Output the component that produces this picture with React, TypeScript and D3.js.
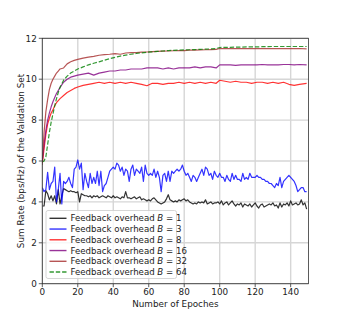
import * as d3 from 'd3';

const W = 343;
const H = 319;
const M = { left: 42.3, right: 308.4, top: 38.3, bottom: 283.7 };

// epochs used for the smooth curves
const smoothEpochs = [
  0, 1, 2, 3, 4, 5, 6, 7, 8, 9, 10, 12, 14, 16, 18, 20, 23, 26, 29, 32, 35, 38, 41, 44, 47, 50, 53, 56, 59,
  62, 65, 68, 71, 74, 77, 80, 83, 86, 89, 92, 95, 98, 100, 103, 106, 109, 112, 115, 118, 121, 124, 127, 130,
  133, 136, 139, 142, 145, 149,
];

const b1 = [
  3.8, 3.8, 4.55, 4.4, 4.1, 4.3, 4.05, 4.3, 3.9, 4.6,
  3.9, 4.3, 4.65, 4.6, 4.55, 4.5, 4.55, 4.5, 4.5, 4.45,
  4.5, 4.0, 4.4, 4.35, 4.3, 4.3, 4.25, 4.3, 4.2, 4.3,
  4.25, 4.3, 4.2, 4.25, 4.3, 4.25, 4.2, 4.3, 4.25, 4.2,
  4.3, 4.2, 4.25, 4.2, 4.15, 4.25, 4.2, 4.5, 4.2, 4.2,
  4.15, 4.2, 4.25, 4.15, 4.2, 4.25, 4.1, 4.15, 4.1, 4.05,
  4.1, 4.05, 4.15, 4.2, 4.1, 4.0, 3.95, 3.9, 3.95, 4.0,
  4.15, 4.35, 4.1, 4.05, 4.0, 4.05, 4.0, 4.1, 4.05, 4.1,
  4.15, 4.05, 4.1, 4.0, 3.95, 3.9, 3.95, 3.9, 4.0, 3.95,
  4.0, 3.95, 4.1, 3.9, 3.95, 4.0, 3.9, 3.95, 3.95, 4.0,
  3.9, 4.05, 3.85, 3.95, 4.0, 3.85, 3.95, 4.05, 3.9, 3.8,
  3.9, 3.85, 3.95, 3.75, 3.9, 3.85, 3.8, 3.9, 3.75, 3.85,
  3.95, 3.8, 3.7, 3.85, 3.9, 3.75, 3.8, 3.85, 3.9, 3.85,
  3.95, 3.8, 3.85, 3.7, 3.95, 3.75, 3.9, 3.85, 3.95, 3.8,
  4.05, 3.85, 3.9, 3.95, 3.85, 3.9, 4.1, 3.85, 3.95, 3.65,
];

const b3 = [
  4.7, 4.5, 4.6, 5.45, 4.6, 4.9, 5.0, 5.7, 4.0, 4.6,
  5.4, 3.9, 5.0, 4.9, 5.0, 5.2, 4.9, 4.7, 5.6, 5.7,
  6.05, 5.6, 5.9, 4.6, 5.4, 5.0, 4.7, 5.4, 4.9, 5.2,
  4.9, 5.5, 4.8, 5.5, 4.5, 4.8, 4.9, 5.2, 5.5, 5.6,
  5.7, 5.6, 5.9, 5.8, 5.5, 5.7, 5.3, 5.6, 5.5, 5.0,
  5.6, 5.8, 5.3, 5.6, 5.5, 5.4, 5.7, 5.0, 5.8, 5.4,
  5.3, 5.4, 5.3, 5.6, 5.2, 5.5, 5.2, 4.5, 5.3, 5.4,
  5.0, 5.5, 5.0, 5.5, 5.4, 5.5, 5.6, 5.5, 5.6, 5.8,
  5.5, 5.3, 5.4, 5.2, 5.0, 5.3, 5.2, 5.0, 5.2, 5.4,
  5.6, 5.3, 5.7, 5.6, 5.3, 5.4, 5.1, 5.5, 5.3, 5.2,
  5.4, 5.2, 5.2, 5.0, 5.3, 5.1, 5.0, 5.4, 5.1, 5.3,
  5.1, 5.1, 5.0, 5.4, 5.1, 5.2, 5.1, 5.4, 5.2, 5.2,
  5.2, 5.3, 5.2, 5.2, 5.1, 5.1, 5.0, 5.0, 4.9, 4.9,
  4.8, 4.7, 4.9, 4.8, 5.2, 4.7, 5.0, 5.1, 5.2, 5.3,
  5.2, 5.1, 5.0, 4.8, 4.5, 4.6, 4.7, 4.7, 4.5, 4.5,
];

const b8 = [
  5.9, 6.6, 7.3, 7.8, 8.1, 8.35, 8.5, 8.7, 8.85, 8.95, 9.05, 9.2, 9.35, 9.45, 9.55, 9.62, 9.7, 9.75, 9.8,
  9.85, 9.8, 9.85, 9.8, 9.85, 9.8, 9.85, 9.8, 9.75, 9.68, 9.8, 9.8, 9.75, 9.8, 9.8, 9.85, 9.8, 9.85, 9.8,
  9.85, 9.8, 9.85, 9.8, 9.95, 9.9, 9.85, 9.9, 9.85, 9.85, 9.8, 9.85, 9.85, 9.8, 9.85, 9.8, 9.85, 9.75, 9.7,
  9.75, 9.8,
];

const b16 = [
  6.0, 6.8, 7.5, 8.0, 8.35, 8.65, 8.9, 9.1, 9.3, 9.45, 9.6, 9.85, 10.0, 10.1, 10.15, 10.2, 10.25, 10.3,
  10.2, 10.3, 10.35, 10.4, 10.4, 10.45, 10.45, 10.5, 10.5, 10.5, 10.55, 10.55, 10.55, 10.5, 10.55, 10.5,
  10.55, 10.55, 10.55, 10.6, 10.55, 10.6, 10.6, 10.55, 10.7, 10.7, 10.7, 10.68, 10.7, 10.7, 10.7, 10.7,
  10.72, 10.7, 10.7, 10.7, 10.72, 10.72, 10.7, 10.72, 10.7,
];

const b32 = [
  5.8, 7.4, 8.4, 9.0, 9.5, 9.8, 10.0, 10.15, 10.3, 10.4, 10.5, 10.55, 10.75, 10.85, 10.92, 10.97, 11.03,
  11.08, 11.12, 11.17, 11.2, 11.22, 11.25, 11.22, 11.28, 11.3, 11.3, 11.32, 11.33, 11.35, 11.36, 11.37,
  11.38, 11.39, 11.4, 11.4, 11.42, 11.42, 11.43, 11.44, 11.45, 11.46, 11.5, 11.5, 11.5, 11.5, 11.5, 11.5,
  11.5, 11.5, 11.5, 11.5, 11.5, 11.5, 11.5, 11.5, 11.5, 11.5, 11.48,
];

const b64 = [
  5.95, 6.0, 6.2, 6.8, 7.4, 7.9, 8.3, 8.7, 9.05, 9.35, 9.6, 9.95, 10.15, 10.3, 10.4, 10.5, 10.6, 10.7,
  10.78, 10.85, 10.93, 11.0, 11.07, 11.13, 11.18, 11.22, 11.26, 11.29, 11.32, 11.34, 11.36, 11.38, 11.4,
  11.41, 11.42, 11.43, 11.44, 11.45, 11.46, 11.47, 11.48, 11.5, 11.55, 11.56, 11.56, 11.57, 11.57, 11.58,
  11.58, 11.58, 11.59, 11.59, 11.6, 11.6, 11.6, 11.6, 11.6, 11.6, 11.6,
];

const feedbackBits = [1, 3, 8, 16, 32, 64];
const seriesColors = ['#000000', '#0000ff', '#ff0000', '#800080', '#a52a2a', '#008000'];
const xTicks = [0, 20, 40, 60, 80, 100, 120, 140];
const yTicks = [0, 2, 4, 6, 8, 10, 12];

const FONT = 'DejaVu Sans, sans-serif';

export default function App() {
  const x = d3.scaleLinear().domain([0, 150]).range([M.left, M.right]);
  const y = d3.scaleLinear().domain([0, 12]).range([M.bottom, M.top]);
  const line = d3
    .line<[number, number]>()
    .x((d) => x(d[0]))
    .y((d) => y(d[1]));

  const everyEpoch = (vals: number[]) => vals.map((v, i) => [i, v] as [number, number]);
  const onSmooth = (vals: number[]) => vals.map((v, i) => [smoothEpochs[i], v] as [number, number]);
  const series = [everyEpoch(b1), everyEpoch(b3), onSmooth(b8), onSmooth(b16), onSmooth(b32), onSmooth(b64)];

  const legX = 46;
  const legY = 210.5;
  const rowH = 10.75;

  return (
    <div style={{ position: 'fixed', left: 0, top: 0, width: W, height: H, background: '#fff' }}>
      <svg width={W} height={H} style={{ display: 'block' }} fontFamily={FONT}>
        <rect width={W} height={H} fill="#fff" />
        <defs>
          <clipPath id="plot">
            <rect x={M.left} y={M.top} width={M.right - M.left} height={M.bottom - M.top} />
          </clipPath>
        </defs>
        {/* grid */}
        {xTicks.map((t) => (
          <line key={'gx' + t} x1={x(t)} x2={x(t)} y1={M.top} y2={M.bottom} stroke="#d6d6d6" strokeWidth={1.4} />
        ))}
        {yTicks.map((t) => (
          <line key={'gy' + t} x1={M.left} x2={M.right} y1={y(t)} y2={y(t)} stroke="#d6d6d6" strokeWidth={1.4} />
        ))}
        {/* series */}
        <g clipPath="url(#plot)">
          {series.map((pts, i) => (
            <path
              key={i}
              d={line(pts) || ''}
              fill="none"
              stroke={seriesColors[i]}
              strokeOpacity={0.8}
              strokeWidth={1.2}
              strokeDasharray={i === 5 ? '4.4,1.9' : undefined}
              strokeLinejoin="round"
            />
          ))}
        </g>
        {/* spines */}
        <rect
          x={M.left}
          y={M.top}
          width={M.right - M.left}
          height={M.bottom - M.top}
          fill="none"
          stroke="#333"
          strokeWidth={0.8}
        />
        {/* ticks */}
        {xTicks.map((t) => (
          <g key={'tx' + t}>
            <line x1={x(t)} x2={x(t)} y1={M.bottom} y2={M.bottom + 3.5} stroke="#333" strokeWidth={0.8} />
            <text x={x(t)} y={M.bottom + 10.8} fontSize={8.8} textAnchor="middle" fill="#222">
              {t}
            </text>
          </g>
        ))}
        {yTicks.map((t) => (
          <g key={'ty' + t}>
            <line x1={M.left - 3.5} x2={M.left} y1={y(t)} y2={y(t)} stroke="#333" strokeWidth={0.8} />
            <text x={M.left - 5.5} y={y(t) + 3.2} fontSize={8.8} textAnchor="end" fill="#222">
              {t}
            </text>
          </g>
        ))}
        {/* axis labels */}
        <text x={(M.left + M.right) / 2} y={306.5} fontSize={8.8} textAnchor="middle" fill="#222">
          Number of Epoches
        </text>
        <text
          transform={`translate(23.5,${(M.top + M.bottom) / 2}) rotate(-90)`}
          fontSize={8.8}
          textAnchor="middle"
          fill="#222"
        >
          Sum Rate (bps/Hz) of the Validation Set
        </text>
        {/* legend */}
        <rect
          x={legX}
          y={legY}
          width={130.5}
          height={68}
          rx={2}
          fill="#fff"
          fillOpacity={0.8}
          stroke="#cccccc"
          strokeWidth={0.8}
        />
        {feedbackBits.map((b, i) => {
          const ry = legY + 7.8 + i * rowH;
          return (
            <g key={'lg' + b}>
              <line
                x1={legX + 3.5}
                x2={legX + 20.5}
                y1={ry}
                y2={ry}
                stroke={seriesColors[i]}
                strokeOpacity={0.8}
                strokeWidth={1.4}
                strokeDasharray={i === 5 ? '4.4,1.9' : undefined}
              />
              <text x={legX + 24.5} y={ry + 3.1} fontSize={8.6} fill="#222">
                Feedback overhead <tspan fontStyle="italic">B</tspan> = {b}
              </text>
            </g>
          );
        })}
      </svg>
    </div>
  );
}
